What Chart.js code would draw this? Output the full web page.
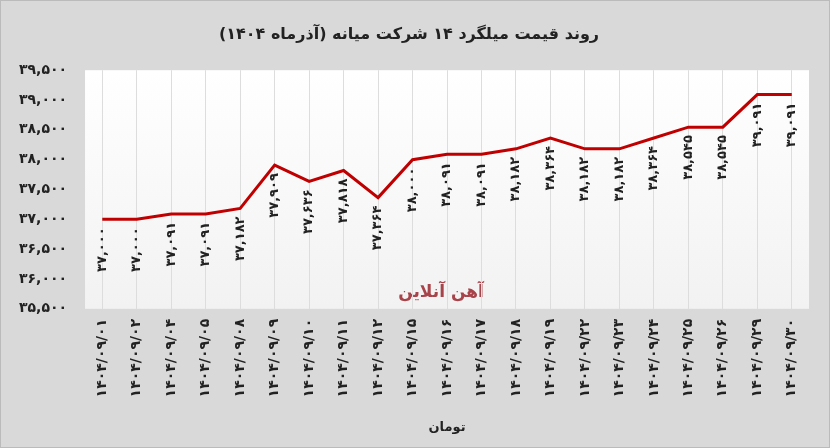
<!DOCTYPE html>
<html><head><meta charset="utf-8">
<script src="https://cdn.jsdelivr.net/npm/chart.js@4"></script>
<style>html,body{margin:0;padding:0;background:#fff}
#w{position:relative;width:830px;height:448px;background:#d9d9d9;box-sizing:border-box;border:1px solid #bbb}
</style></head><body>
<div id="w"><canvas id="c" width="828" height="446"></canvas></div>
<script>
const dates=["1404/09/01","1404/09/02","1404/09/04","1404/09/05","1404/09/08","1404/09/09","1404/09/10","1404/09/11","1404/09/12","1404/09/15","1404/09/16","1404/09/17","1404/09/18","1404/09/19","1404/09/22","1404/09/23","1404/09/24","1404/09/25","1404/09/26","1404/09/29","1404/09/30"];
const prices=[37000,37000,37091,37091,37182,37909,37636,37818,37364,38000,38091,38091,38182,38364,38182,38182,38364,38545,38545,39091,39091];
const yTicks=[35500,36000,36500,37000,37500,38000,38500,39000,39500];
const fa=s=>String(s).replace(/\d/g,d=>"۰۱۲۳۴۵۶۷۸۹"[d]);
const fmt=v=>fa(v.toLocaleString('en-US'));
const font="'DejaVu Sans'";
const plotBg={id:'pb',beforeDraw(ch){const {ctx,chartArea:a}=ch;const g=ctx.createLinearGradient(0,a.top,0,a.bottom);g.addColorStop(0,'#ffffff');g.addColorStop(1,'#f2f2f2');ctx.save();ctx.fillStyle=g;ctx.fillRect(a.left,a.top,a.right-a.left,a.bottom-a.top);
ctx.font="bold 17px "+font;ctx.fillStyle='#a8434a';ctx.textAlign='center';ctx.textBaseline='middle';ctx.fillText('آهن آنلاین',440,292);ctx.restore();}};
const labels={id:'dl',afterDatasetsDraw(ch){const {ctx}=ch;const m=ch.getDatasetMeta(0);ctx.save();ctx.font="bold 13px "+font;ctx.fillStyle='#222';ctx.textAlign='right';ctx.textBaseline='middle';
m.data.forEach((p,i)=>{ctx.save();ctx.translate(p.x,p.y+8);ctx.rotate(-Math.PI/2);ctx.fillText(fmt(prices[i]),0,0);ctx.restore();});ctx.restore();}};
new Chart(document.getElementById('c'),{type:'line',
data:{labels:dates,datasets:[{data:prices,borderColor:'#c00000',borderWidth:3,pointRadius:0,tension:0}]},
options:{responsive:false,animation:false,layout:{padding:{left:8,right:20,top:4,bottom:8}},
plugins:{legend:{display:false},tooltip:{enabled:false},
title:{display:true,text:'روند قیمت میلگرد ۱۴ شرکت میانه (آذرماه ۱۴۰۴)',font:{family:font,size:16,weight:'bold'},color:'#222',padding:{top:20,bottom:26}}},
scales:{y:{min:35500,max:39500,afterBuildTicks:s=>{s.ticks=yTicks.map(v=>({value:v}))},grid:{display:false},border:{display:false},
ticks:{callback:v=>fmt(v),font:{family:font,size:14,weight:'bold'},color:'#222',padding:10}},
x:{offset:true,grid:{color:'#dddddd',drawTicks:false},border:{display:false},
ticks:{callback:(v,i)=>fa(dates[i]),maxRotation:90,minRotation:90,font:{family:font,size:14,weight:'bold'},color:'#222',padding:10},
title:{display:true,text:'تومان',font:{family:font,size:13,weight:'bold'},color:'#222',padding:{top:12}}}}},
plugins:[plotBg,labels]});
</script></body></html>
